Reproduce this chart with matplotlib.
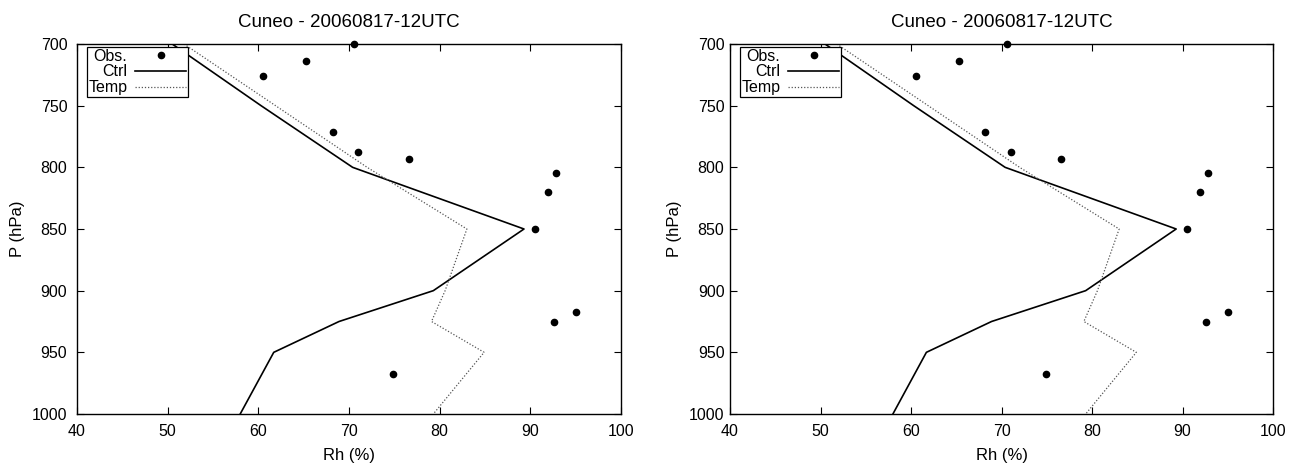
import matplotlib
matplotlib.use("Agg")
import matplotlib.pyplot as plt

plt.rcParams['font.family'] = ['Liberation Sans', 'DejaVu Sans']

# observations (Rh %, pressure hPa)
obs_rh = [70.6, 65.3, 60.5, 68.2, 71.0, 76.6, 92.8, 91.9, 90.5, 95.0, 92.6, 74.9]
obs_p = [700, 713.5, 726.2, 771.4, 787.4, 793.5, 804.3, 820.3, 850.3, 917.6, 925.6, 967.6]

# control run
ctrl_rh = [50.5, 60.3, 70.4, 89.3, 79.3, 68.9, 61.7, 58.0]
ctrl_p = [700, 750, 800, 850, 900, 925, 950, 1000]

# temp run
temp_rh = [51.8, 72.0, 83.0, 80.6, 79.1, 84.9, 79.3]
temp_p = [700, 800, 850, 900, 925, 950, 1000]

title = "Cuneo - 20060817-12UTC"
xticks = [40, 50, 60, 70, 80, 90, 100]
yticks = [700, 750, 800, 850, 900, 950, 1000]

W, H = 1301, 467
fig = plt.figure(figsize=(W / 100, H / 100), dpi=100)

# axes boxes in pixels: left, right, y tick pad
boxes = [(77, 621, 7), (730, 1273, 4)]
top, bottom = 44, 414

for x0, x1, ypad in boxes:
    ax = fig.add_axes([x0 / W, 1 - bottom / H, (x1 - x0) / W, (bottom - top) / H])
    ax.plot(obs_rh, obs_p, 'o', color='black', markersize=4.5, label='Obs.', clip_on=False)
    ax.plot(ctrl_rh, ctrl_p, '-', color='black', linewidth=1.2, label='Ctrl')
    ax.plot(temp_rh, temp_p, color='#555555', linewidth=0.9,
            linestyle=(0, (1, 1.5)), label='Temp')

    ax.set_xlim(40, 100)
    ax.set_ylim(1000, 700)
    ax.set_xticks(xticks)
    ax.set_yticks(yticks)
    ax.tick_params(direction='in', length=5, width=0.8, top=True, right=True,
                   labelsize=11.5)
    ax.tick_params(axis='x', pad=7)
    ax.tick_params(axis='y', pad=ypad)
    for s in ax.spines.values():
        s.set_linewidth(1.0)

    ax.set_title(title, fontsize=13.5, pad=12)
    ax.set_xlabel("Rh (%)", fontsize=12, labelpad=7)
    ax.set_ylabel("P (hPa)", fontsize=12, labelpad=5)

    leg = ax.legend(loc='upper left', bbox_to_anchor=(0.018, 0.992), borderaxespad=0,
                    markerfirst=False, fontsize=11.5, fancybox=False, framealpha=1,
                    edgecolor='black', borderpad=0.1, labelspacing=0.05,
                    handlelength=3.2, handletextpad=0.5, numpoints=1)
    leg.get_frame().set_linewidth(0.9)

fig.savefig("out.png", dpi=100)
